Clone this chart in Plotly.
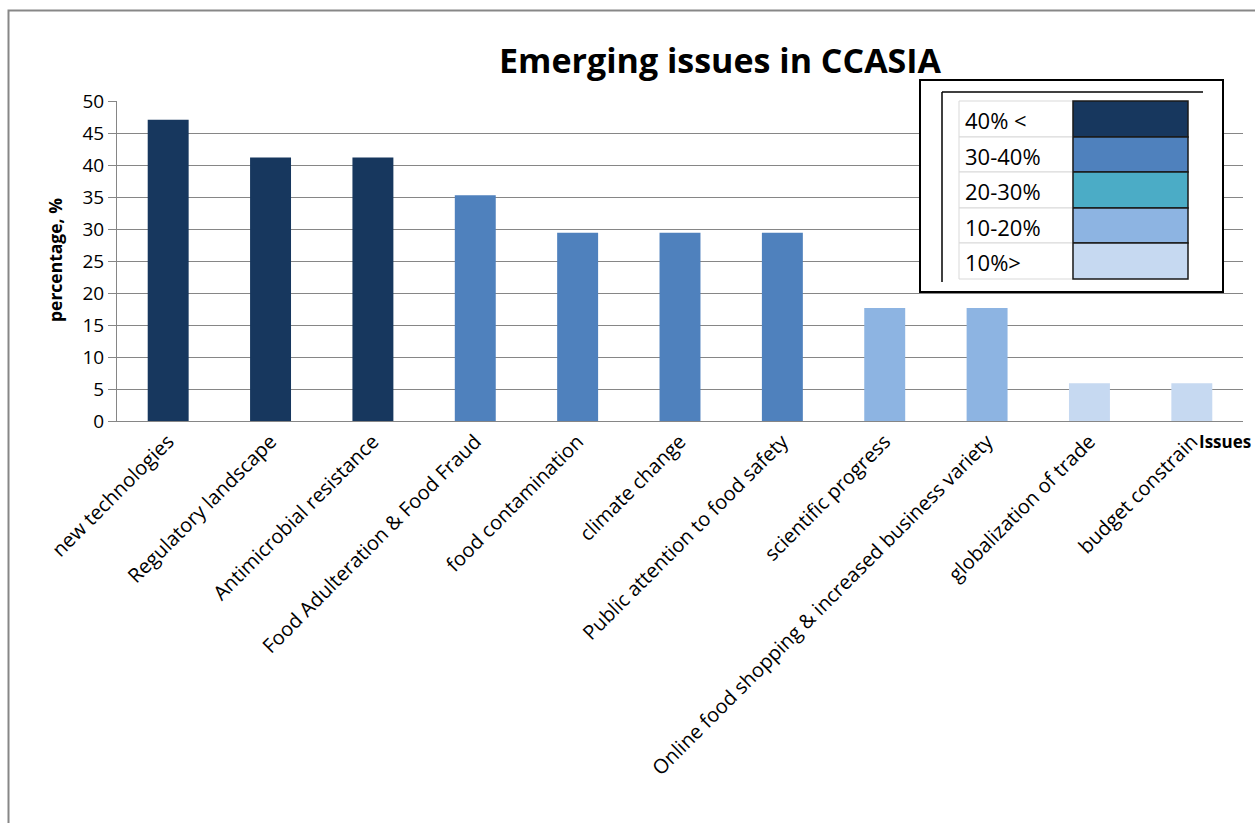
import plotly.graph_objects as go

# ---- data ----
categories = [
    "new technologies",
    "Regulatory landscape",
    "Antimicrobial resistance",
    "Food Adulteration & Food Fraud",
    "food contamination",
    "climate change",
    "Public attention to food safety",
    "scientific progress",
    "Online food shopping & increased business variety",
    "globalization of trade",
    "budget constrain",
]
values = [47.06, 41.18, 41.18, 35.29, 29.41, 29.41, 29.41, 17.65, 17.65, 5.88, 5.88]

legend_labels = ["40% <", "30-40%", "20-30%", "10-20%", "10%>"]
legend_colors = ["#17375E", "#4F81BD", "#4BACC6", "#8DB4E2", "#C6D9F1"]

title_text = "Emerging issues in CCASIA"
y_title = "percentage, %"
x_title = "Issues"

# bar colour by value band (Excel chart coloured bars manually; 29.4 shown in 30-40 colour)
def band_color(v):
    if v >= 40:
        return legend_colors[0]
    if v >= 29:
        return legend_colors[1]
    if v >= 20:
        return legend_colors[2]
    if v >= 10:
        return legend_colors[3]
    return legend_colors[4]

bar_colors = [band_color(v) for v in values]

W, H = 1255, 823
L, R, T, B = 117, 12, 101, 402
PW = W - L - R
PH = H - T - B

def px(x):
    return (x - L) / PW

def py(y):
    return (H - B - y) / PH

FONT = "'Open Sans', Calibri, Arial, sans-serif"

fig = go.Figure()
fig.add_trace(go.Bar(x=categories, y=values, marker=dict(color=bar_colors, line=dict(width=0)),
                     showlegend=False, hoverinfo="x+y"))

shapes = []
annotations = []

# outer chart border (gray)
shapes.append(dict(type="rect", xref="paper", yref="paper",
                   x0=px(8.5), x1=px(W + 20), y0=py(10.5), y1=py(H + 20),
                   line=dict(color="#878787", width=2), fillcolor="rgba(0,0,0,0)", layer="above"))

# legend box
shapes.append(dict(type="rect", xref="paper", yref="paper",
                   x0=px(920), x1=px(1223), y0=py(80), y1=py(292),
                   line=dict(color="#000000", width=2), fillcolor="#FFFFFF", layer="above"))
shapes.append(dict(type="line", xref="paper", yref="paper",
                   x0=px(942), x1=px(1203), y0=py(92), y1=py(92),
                   line=dict(color="#000000", width=1.5), layer="above"))
shapes.append(dict(type="line", xref="paper", yref="paper",
                   x0=px(942), x1=px(942), y0=py(92), y1=py(282),
                   line=dict(color="#000000", width=1.5), layer="above"))

row_tops = [101, 137, 172, 208, 243, 279]
for i, (lab, col) in enumerate(zip(legend_labels, legend_colors)):
    y0, y1 = row_tops[i], row_tops[i + 1]
    shapes.append(dict(type="rect", xref="paper", yref="paper",
                       x0=px(959), x1=px(1073), y0=py(y0), y1=py(y1),
                       line=dict(color="#D9D9D9", width=1), fillcolor="#FFFFFF", layer="above"))
    shapes.append(dict(type="rect", xref="paper", yref="paper",
                       x0=px(1073), x1=px(1188), y0=py(y0), y1=py(y1),
                       line=dict(color="#1A1A1A", width=1.5), fillcolor=col, layer="above"))
    annotations.append(dict(xref="paper", yref="paper", x=px(963), y=py((y0 + y1) / 2 + 1),
                            text=lab, showarrow=False, xanchor="left", yanchor="middle",
                            font=dict(family=FONT, size=22, color="#000000")))

# title
annotations.append(dict(xref="paper", yref="paper", x=px(720), y=py(60),
                        text="<b>" + title_text + "</b>", showarrow=False,
                        xanchor="center", yanchor="middle",
                        font=dict(family=FONT, size=34, color="#000000")))
# y title
annotations.append(dict(xref="paper", yref="paper", x=px(55), y=py(260),
                        text="<b>" + y_title + "</b>", showarrow=False, textangle=-90,
                        xanchor="center", yanchor="middle",
                        font=dict(family=FONT, size=17.5, color="#000000")))
# x title
annotations.append(dict(xref="paper", yref="paper", x=px(1197), y=py(441),
                        text="<b>" + x_title + "</b>", showarrow=False,
                        xanchor="left", yanchor="middle",
                        font=dict(family=FONT, size=17, color="#000000")))

fig.update_layout(
    width=W, height=H, autosize=False,
    margin=dict(l=L, r=R, t=T, b=B, pad=0),
    paper_bgcolor="#FFFFFF", plot_bgcolor="#FFFFFF",
    bargap=0.6,
    font=dict(family=FONT, color="#000000"),
    shapes=shapes, annotations=annotations,
    xaxis=dict(tickangle=-45, tickfont=dict(family=FONT, size=20, color="#000000"),
               showline=True, linecolor="#868686", linewidth=1, showgrid=False,
               ticks="", automargin=False),
    yaxis=dict(range=[0, 50], dtick=5, tickfont=dict(family=FONT, size=19, color="#000000"),
               showline=True, linecolor="#868686", linewidth=1,
               showgrid=True, gridcolor="#868686", gridwidth=1,
               ticks="outside", ticklen=8, tickcolor="#868686", automargin=False,
               zeroline=False),
)

fig.write_html("out.html")
